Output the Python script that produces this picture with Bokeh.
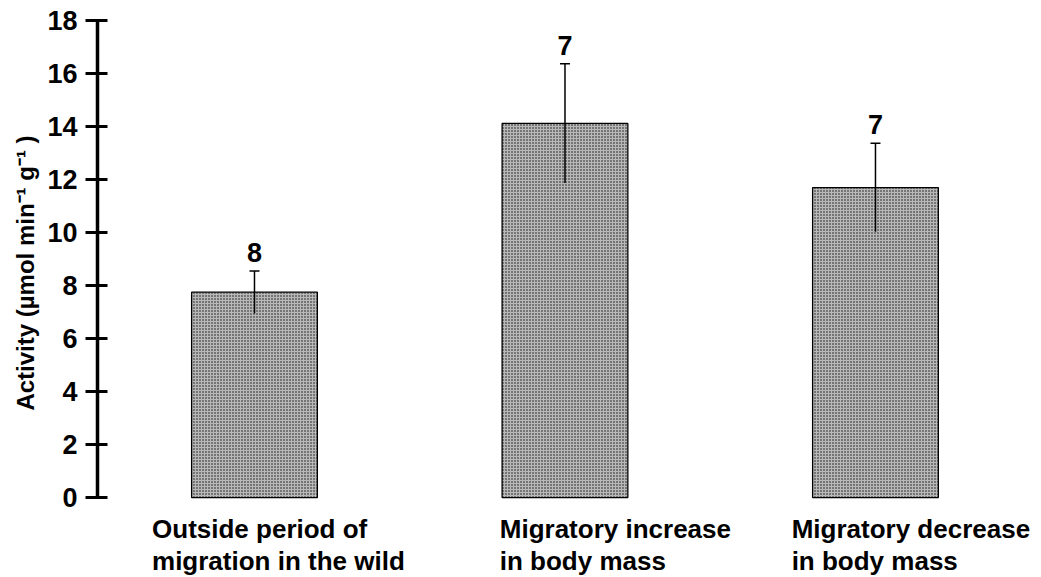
from bokeh.plotting import figure
from bokeh.models import ColumnDataSource, Range1d, Whisker, TeeHead, FixedTicker
from bokeh.core.properties import value
from bokeh.embed import file_html
from bokeh.resources import INLINE

# ---- data ----
groups = ["Outside period of migration in the wild",
          "Migratory increase in body mass",
          "Migratory decrease in body mass"]
label_line1 = ["Outside period of", "Migratory increase", "Migratory decrease"]
label_line2 = ["migration in the wild", "in body mass", "in body mass"]
means = [7.75, 14.12, 11.70]
sem = [0.80, 2.25, 1.67]
n_counts = ["8", "7", "7"]
y_ticks = [0, 2, 4, 6, 8, 10, 12, 14, 16, 18]

# ---- layout helpers (not data) ----
xpos = [1, 2, 3]
label_dx = [-0.33, -0.21, -0.27]
FONT = "Liberation Sans"

src = ColumnDataSource(dict(
    x=xpos,
    top=means,
    upper=[m + s for m, s in zip(means, sem)],
    lower=[m - s for m, s in zip(means, sem)],
    n=n_counts,
    lx=[x + d for x, d in zip(xpos, label_dx)],
    l1=label_line1,
    l2=label_line2,
    zero=[0, 0, 0],
))

p = figure(width=1041, height=577, output_backend="svg", toolbar_location=None,
           x_range=Range1d(0.4944, 3.5347), y_range=Range1d(-2.94, 18.38),
           min_border_left=97, min_border_right=0, min_border_top=10,
           min_border_bottom=2)
p.outline_line_color = None
p.xgrid.visible = False
p.ygrid.visible = False
p.xaxis.visible = False
p.background_fill_color = "white"
p.border_fill_color = "white"

p.vbar(x="x", top="top", bottom=0, width=0.405, source=src,
       fill_color="#b8b8b8", line_color="black", line_width=1.3,
       hatch_pattern="dot", hatch_color="#111111", hatch_scale=3, hatch_weight=1.2)

w = Whisker(base="x", upper="upper", lower="lower", source=src, dimension="height",
            line_color="black", line_width=1.5, level="annotation",
            upper_head=TeeHead(size=10, line_width=1.5, line_color="black"),
            lower_head=None)
p.add_layout(w)

p.text(x="x", y="upper", text="n", source=src, text_align="center",
       text_baseline="bottom", y_offset=-9, text_font=value(FONT),
       text_font_style="bold", text_font_size="27px", text_color="black")

p.text(x="lx", y="zero", text="l1", source=src, text_align="left",
       text_baseline="middle", y_offset=31, text_font=value(FONT),
       text_font_style="bold", text_font_size="26px", text_color="black")
p.text(x="lx", y="zero", text="l2", source=src, text_align="left",
       text_baseline="middle", y_offset=63, text_font=value(FONT),
       text_font_style="bold", text_font_size="26px", text_color="black")

ya = p.yaxis[0]
ya.bounds = (0, 18)
ya.ticker = FixedTicker(ticks=y_ticks)
ya.minor_tick_line_color = None
ya.axis_line_width = 3.5
ya.major_tick_line_width = 3
ya.major_tick_in = 10
ya.major_tick_out = 12
ya.major_label_standoff = 8
ya.major_label_text_font = FONT
ya.major_label_text_font_style = "bold"
ya.major_label_text_font_size = "27px"
ya.major_label_text_color = "black"
ya.axis_label = "\u00a0" * 6 + "Activity (\u00b5mol min\u207b\u00b9 g\u207b\u00b9 )"
ya.axis_label_text_font = FONT
ya.axis_label_text_font_style = "bold"
ya.axis_label_text_font_size = "24px"
ya.axis_label_text_color = "black"
ya.axis_label_standoff = 5

open("out.html", "w").write(file_html(p, INLINE))
